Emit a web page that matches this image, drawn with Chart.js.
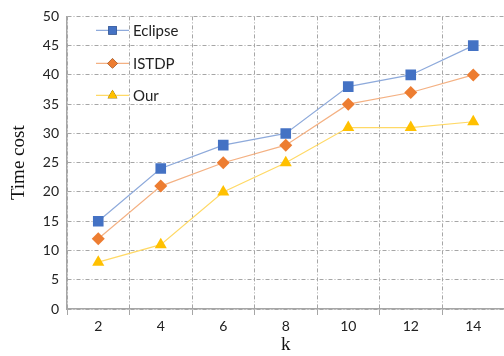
<!DOCTYPE html>
<html>
<head>
<meta charset="utf-8">
<script src="https://cdn.jsdelivr.net/npm/chart.js@4/dist/chart.umd.min.js"></script>
<style>
  html, body { margin: 0; padding: 0; background: #fff; overflow: hidden; }
  #wrap { width: 512px; height: 356px; }
</style>
</head>
<body>
<div id="wrap"><canvas id="c" width="512" height="356"></canvas></div>
<script>
// values
const kLabels = ["2", "4", "6", "8", "10", "12", "14"];
const eclipse = [15, 24, 28, 30, 38, 40, 45];
const istdp = [12, 21, 25, 28, 35, 37, 40];
const ours = [8, 11, 20, 25, 31, 31, 32];

const GRID = "#a6a6a6";
const TICK_FONT = { family: "Lato, 'Open Sans', sans-serif", size: 14 };
const TITLE_FONT = { family: "'Liberation Serif', serif", size: 19 };

function series(label, data, color, lineColor, style, radius) {
  return {
    label, data,
    borderColor: lineColor,
    backgroundColor: color,
    borderWidth: 1.2,
    pointStyle: style,
    pointRadius: radius,
    pointBorderColor: color,
    pointBackgroundColor: color,
    pointBorderWidth: 0,
    tension: 0,
  };
}

// legend drawn inside the plot, line + marker + label like the original
const innerLegend = {
  id: "innerLegend",
  afterDatasetsDraw(chart) {
    const ctx = chart.ctx;
    const area = chart.chartArea;
    const x0 = area.left + 29, x1 = area.left + 62;
    const rows = [area.top + 14, area.top + 47, area.top + 79];
    chart.data.datasets.forEach((ds, i) => {
      const y = rows[i];
      ctx.save();
      ctx.strokeStyle = ds.borderColor;
      ctx.lineWidth = 1.2;
      ctx.beginPath();
      ctx.moveTo(x0, y);
      ctx.lineTo(x1, y);
      ctx.stroke();
      Chart.helpers.drawPoint(ctx, {
        pointStyle: ds.pointStyle,
        radius: ds.pointRadius * 0.8,
        borderWidth: 0,
        rotation: 0,
      }, (x0 + x1) / 2, y);
      ctx.fillStyle = ds.pointBackgroundColor;
      ctx.fill();
      ctx.fillStyle = "#222";
      ctx.font = "15px Lato, 'Open Sans', sans-serif";
      ctx.textBaseline = "middle";
      ctx.fillText(ds.label, x1 + 4, y + 1);
      ctx.restore();
    });
  }
};

new Chart(document.getElementById("c"), {
  type: "line",
  data: {
    labels: kLabels,
    datasets: [
      series("Eclipse", eclipse, "#4472c4", "#8eaadb", "rect", 7.5),
      series("ISTDP", istdp, "#ed7d31", "#f4b183", "rectRot", 6.5),
      series("Our", ours, "#ffc000", "#ffd966", "triangle", 7),
    ],
  },
  options: {
    responsive: false,
    animation: false,
    layout: { padding: { top: 16, left: 8, right: 0, bottom: 0 } },
    plugins: { legend: { display: false }, tooltip: { enabled: false } },
    scales: {
      x: {
        offset: true,
        grid: {
          offset: true,
          color: GRID,
          lineWidth: 1,
          drawTicks: true,
          tickLength: 6,
          tickColor: GRID,
          tickBorderDash: [],
        },
        border: { display: true, color: "#a6a6a6", width: 1.5, dash: [4, 2, 1, 2] },
        ticks: { color: "#222", font: TICK_FONT, padding: 3 },
        title: { display: true, text: "k", color: "#111", font: TITLE_FONT, padding: { top: -4, bottom: 0 } },
        afterFit(s) { s.height = 47; },
      },
      y: {
        min: 0,
        max: 50,
        ticks: { stepSize: 5, color: "#222", font: TICK_FONT, padding: 8 },
        grid: { color: GRID, lineWidth: 1, drawTicks: false },
        border: { display: true, color: "#a6a6a6", width: 1.5, dash: [4, 2, 1, 2] },
        title: { display: true, text: "Time cost", color: "#111", font: TITLE_FONT, padding: 0 },
        afterFit(s) { s.width = 59; },
      },
    },
  },
  plugins: [innerLegend],
});
</script>
</body>
</html>
